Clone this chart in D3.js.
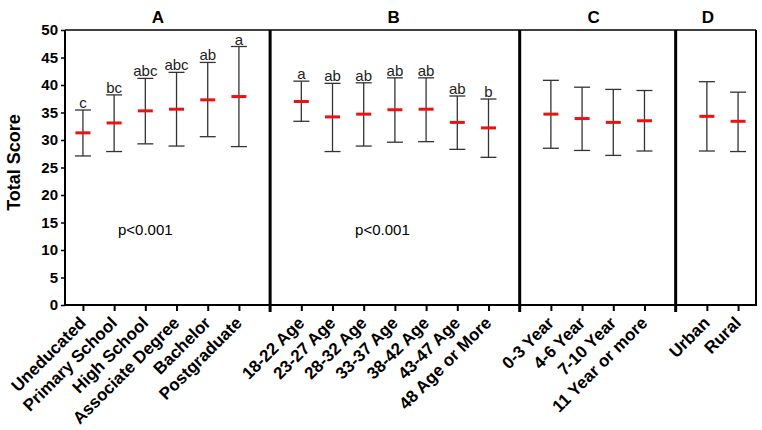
<!DOCTYPE html>
<html><head><meta charset="utf-8">
<script src="https://cdn.jsdelivr.net/npm/d3@7"></script>
<style>body{margin:0;background:#fff}svg{display:block;font-family:"Liberation Sans",Arial,sans-serif}</style>
</head><body><div id="chart"></div>
<script>
const panelA = ["Uneducated","Primary School","High School","Associate Degree","Bachelor","Postgraduate"];
const panelB = ["18-22 Age","23-27 Age","28-32 Age","33-37 Age","38-42 Age","43-47 Age","48 Age or More"];
const panelC = ["0-3 Year","4-6 Year","7-10 Year","11 Year or more"];
const panelD = ["Urban","Rural"];
const panelTitles = ["A","B","C","D"];

const meanA = [31.3,33.1,35.3,35.6,37.3,37.9];
const upperA = [35.45,38.2,41.2,42.3,44.1,47.0];
const lowerA = [27.1,27.9,29.3,28.9,30.6,28.8];
const lettersA = ["c","bc","abc","abc","ab","a"];

const meanB = [37.0,34.2,34.7,35.5,35.6,33.2,32.2];
const upperB = [40.7,40.3,40.4,41.3,41.3,38.0,37.45];
const lowerB = [33.4,27.9,28.9,29.6,29.7,28.3,26.85];
const lettersB = ["a","ab","ab","ab","ab","ab","b"];

const meanC = [34.7,33.9,33.2,33.5];
const upperC = [40.85,39.6,39.2,39.0];
const lowerC = [28.5,28.1,27.2,28.0];

const meanD = [34.3,33.4];
const upperD = [40.6,38.7];
const lowerD = [28.0,27.9];

const yTicks = [0,5,10,15,20,25,30,35,40,45,50];
const pTexts = ["p<0.001","p<0.001","",""];

const panels = [
  {cats:panelA, mean:meanA, up:upperA, lo:lowerA, letters:lettersA},
  {cats:panelB, mean:meanB, up:upperB, lo:lowerB, letters:lettersB},
  {cats:panelC, mean:meanC, up:upperC, lo:lowerC, letters:null},
  {cats:panelD, mean:meanD, up:upperD, lo:lowerD, letters:null}
];
const slots = [];
panels.forEach((p,i)=>{ p.cats.forEach(c=>slots.push(c)); if(i<panels.length-1) slots.push("|"+i); });

const W=762,H=430;
const L=65,R=756,T=30,B=305;
const x = d3.scalePoint().domain(slots).range([L,R]).padding(0.575);
const y = d3.scaleLinear().domain([0,50]).range([B,T]);
const step = x.step();

const svg = d3.select("#chart").append("svg").attr("width",W).attr("height",H);

const yAxis = d3.axisLeft(y).tickValues(yTicks).tickSize(4).tickPadding(3);
const gy = svg.append("g").attr("transform",`translate(${L},0)`).call(yAxis);
gy.select(".domain").remove();
gy.selectAll(".tick line").attr("stroke","#000").attr("stroke-width",1.5);
gy.selectAll(".tick text").attr("font-size",15).attr("font-weight","bold").attr("fill","#000")
  .attr("font-family",'"Liberation Sans",Arial,sans-serif');

const catSlots = slots.filter(s=>!s.startsWith("|"));
const xAxis = d3.axisBottom(x).tickValues(catSlots).tickSize(6).tickFormat("");
const gx = svg.append("g").attr("transform",`translate(0,${B})`).call(xAxis);
gx.select(".domain").remove();
gx.selectAll(".tick line").attr("stroke","#000").attr("stroke-width",2);

svg.append("line").attr("x1",L).attr("x2",L).attr("y1",T).attr("y2",B+1).attr("stroke","#000").attr("stroke-width",2);
svg.append("line").attr("x1",L-1).attr("x2",R+1).attr("y1",B).attr("y2",B).attr("stroke","#000").attr("stroke-width",2);
svg.append("line").attr("x1",L).attr("x2",R).attr("y1",T).attr("y2",T).attr("stroke","#000").attr("stroke-width",1.5);
svg.append("line").attr("x1",R).attr("x2",R).attr("y1",T).attr("y2",B).attr("stroke","#000").attr("stroke-width",2);

slots.filter(s=>s.startsWith("|")).forEach(s=>{
  svg.append("line").attr("x1",x(s)).attr("x2",x(s)).attr("y1",T).attr("y2",B+7)
    .attr("stroke","#000").attr("stroke-width",3);
});

catSlots.forEach(c=>{
  svg.append("text").attr("transform",`translate(${x(c)+4},${B+19}) rotate(-45)`)
    .attr("text-anchor","end").attr("font-size",17).attr("font-weight","bold").text(c);
});

svg.append("text").attr("transform",`translate(20,${(T+B)/2-5}) rotate(-90)`)
  .attr("text-anchor","middle").attr("font-size",18).attr("font-weight","bold").text("Total Score");

const titleSlot = [2.4,9.96,16.37,20.03];
const pSlot = [2.0, 9.6];
panels.forEach((p,i)=>{
  const tx = x(slots[0]) + titleSlot[i]*step;
  svg.append("text").attr("x",tx).attr("y",23).attr("text-anchor","middle")
    .attr("font-size",17).attr("font-weight","bold").text(panelTitles[i]);
  if(pTexts[i]){
    svg.append("text").attr("x",x(slots[0])+pSlot[i]*step).attr("y",y(12.8)).attr("text-anchor","middle")
      .attr("font-size",15).text(pTexts[i]);
  }
  const g = svg.append("g");
  p.cats.forEach((c,j)=>{
    const cx = x(c);
    g.append("line").attr("x1",cx).attr("x2",cx).attr("y1",y(p.up[j])).attr("y2",y(p.lo[j])).attr("stroke","#333").attr("stroke-width",1.3);
    g.append("line").attr("x1",cx-8).attr("x2",cx+8).attr("y1",y(p.up[j])).attr("y2",y(p.up[j])).attr("stroke","#333").attr("stroke-width",1.3);
    g.append("line").attr("x1",cx-8).attr("x2",cx+8).attr("y1",y(p.lo[j])).attr("y2",y(p.lo[j])).attr("stroke","#333").attr("stroke-width",1.3);
    g.append("line").attr("x1",cx-7.5).attr("x2",cx+7.5).attr("y1",y(p.mean[j])).attr("y2",y(p.mean[j])).attr("stroke","#ee1111").attr("stroke-width",3);
    if(p.letters){
      g.append("text").attr("x",cx).attr("y",y(p.up[j])-2).attr("text-anchor","middle")
        .attr("font-size",15).attr("fill","#222").text(p.letters[j]);
    }
  });
});
</script></body></html>
